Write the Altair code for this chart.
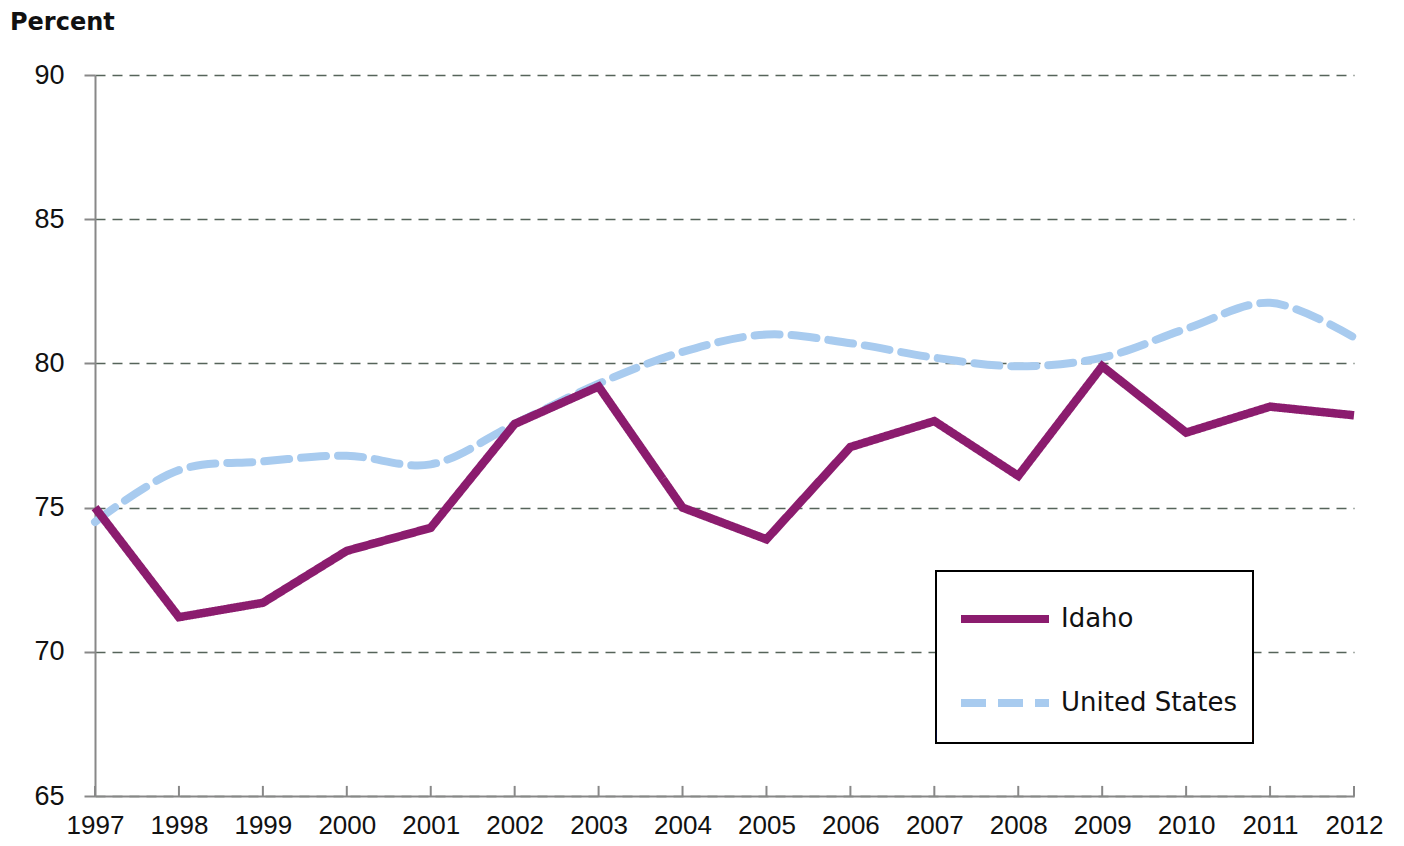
import altair as alt
import pandas as pd

years = list(range(1997, 2013))
idaho = [75.0, 71.2, 71.7, 73.5, 74.3, 77.9, 79.2, 75.0, 73.9, 77.1, 78.0, 76.1, 79.9, 77.6, 78.5, 78.2]
us = [74.5, 76.3, 76.6, 76.8, 76.5, 77.9, 79.3, 80.4, 81.0, 80.7, 80.2, 79.9, 80.2, 81.2, 82.1, 80.9]
series = ["Idaho", "United States"]
y_ticks = [65, 70, 75, 80, 85, 90]

df = pd.DataFrame({
    "year": years * 2,
    "value": idaho + us,
    "series": ["Idaho"] * len(years) + ["United States"] * len(years),
})
ticks_df = pd.DataFrame({"year": years, "y0": [65] * len(years), "y1": [65.35] * len(years)})

xscale = alt.Scale(domain=[1997, 2012], nice=False, zero=False)
yscale = alt.Scale(domain=[65, 90], nice=False, zero=False)

color = alt.Color(
    "series:N",
    scale=alt.Scale(domain=series, range=["#8B1C6E", "#A8CBEF"]),
    legend=alt.Legend(
        orient="none", legendX=841, legendY=496, title="M" * 22 + "II", titleOrient="bottom",
        titleFont="DejaVu Sans", titleFontSize=14, titlePadding=10, titleLimit=1000,
        titleColor="#ffffff",
        symbolType="stroke", symbolSize=7744, symbolStrokeWidth=8,
        symbolOffset=21,
        labelFont="DejaVu Sans", labelFontSize=26, labelColor="#111111", labelLimit=400,
        labelOffset=8, strokeColor="black", fillColor="white",
        padding=0, rowPadding=20,
    ),
)
dash = alt.StrokeDash(
    "series:N",
    scale=alt.Scale(domain=series, range=[[1, 0], [25, 12]]),
    legend=None,
)

x_enc = alt.X(
    "year:Q", scale=xscale, title=None,
    axis=alt.Axis(values=years, format="d", grid=False, ticks=False,
                  labelFontSize=26, labelFont="Liberation Sans", labelColor="#111111",
                  labelPadding=16, domainColor="#888888", domainWidth=2, labelFlush=False),
)
y_enc = alt.Y(
    "value:Q", scale=yscale, title=None,
    axis=alt.Axis(values=y_ticks, grid=True, gridDash=[10, 7], gridColor="#56645a", gridWidth=1.6,
                  tickSize=11, tickColor="#888888", tickWidth=2,
                  labelFontSize=27, labelFont="Liberation Sans", labelColor="#111111",
                  labelPadding=20, domainColor="#888888", domainWidth=2),
)

base = alt.Chart(df)
idaho_line = base.transform_filter(alt.datum.series == "Idaho").mark_line(
    strokeWidth=8.5, strokeJoin="miter", strokeCap="butt"
).encode(x=x_enc, y=y_enc, color=color, strokeDash=dash)
us_line = base.transform_filter(alt.datum.series == "United States").mark_line(
    strokeWidth=8, interpolate="catmull-rom", strokeCap="round"
).encode(x="year:Q", y="value:Q", color=color, strokeDash=dash)

xticks = alt.Chart(ticks_df).mark_rule(color="#888888", strokeWidth=2).encode(
    x="year:Q", y="y0:Q", y2="y1:Q"
)

chart = alt.layer(xticks, us_line, idaho_line).properties(
    width=1259, height=721,
    autosize=alt.AutoSizeParams(type="none"),
    padding={"left": 87, "top": 67, "right": 40, "bottom": 42},
    title=alt.TitleParams("Percent", anchor="start", frame="group", dx=-85, offset=26,
                          font="DejaVu Sans", fontSize=24, fontWeight="bold", color="#111111"),
).configure_view(stroke=None).configure_legend(strokeWidth=2)

chart.save("out.html", embed_options={"renderer": "svg", "actions": False})
